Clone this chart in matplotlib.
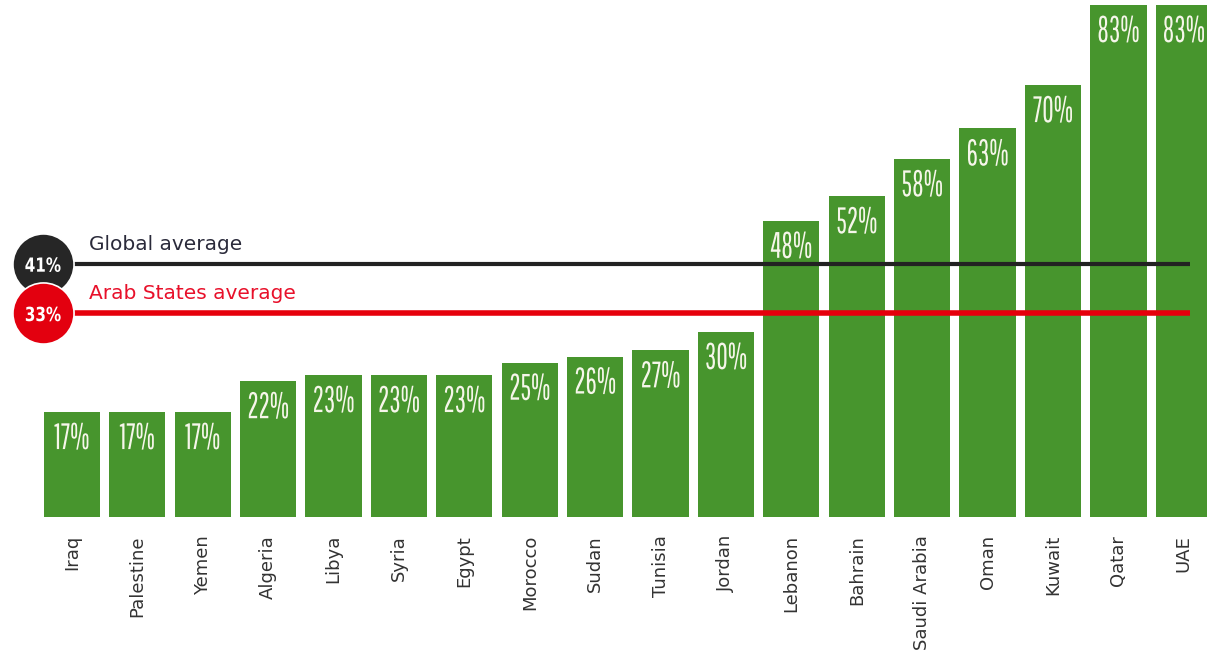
import matplotlib
matplotlib.use("Agg")
import logging
logging.getLogger("matplotlib.font_manager").setLevel(logging.ERROR)
import matplotlib.pyplot as plt
from matplotlib import patheffects
from matplotlib.transforms import Affine2D
from matplotlib.textpath import TextPath
from matplotlib.font_manager import FontProperties

countries = ["Iraq", "Palestine", "Yemen", "Algeria", "Libya", "Syria", "Egypt",
             "Morocco", "Sudan", "Tunisia", "Jordan", "Lebanon", "Bahrain",
             "Saudi Arabia", "Oman", "Kuwait", "Qatar", "UAE"]
values = [17, 17, 17, 22, 23, 23, 23, 25, 26, 27, 30, 48, 52, 58, 63, 70, 83, 83]
averages = [41, 33]
average_labels = ["Global average", "Arab States average"]

NUM_FONT = ["Pathway Gothic One", "DejaVu Sans"]
TXT_FONT = ["DejaVu Sans"]

W, H = 1207, 656
DPI = 100
fig = plt.figure(figsize=(W / DPI, H / DPI), dpi=DPI)
ax = fig.add_axes([0, (H - 517) / H, 1, 517 / H])
ax.set_xlim(-1.10, 17.355)
ax.set_ylim(0, 83.8)
ax.axis("off")


class Condense(patheffects.AbstractPathEffect):
    """Squeeze glyphs horizontally about the anchor x of a (real) text."""

    def __init__(self, ax, xdata, scale):
        super().__init__()
        self.ax = ax
        self.xdata = xdata
        self.scale = scale

    def draw_path(self, renderer, gc, tpath, affine, rgbFace=None):
        xc = self.ax.transData.transform((self.xdata, 0))[0]
        aff = affine + Affine2D().translate(-xc, 0).scale(self.scale, 1).translate(xc, 0)
        renderer.draw_path(gc, tpath, aff, rgbFace)


bar_color = "#47952d"
x = list(range(len(countries)))
ax.bar(x, values, width=0.86, color=bar_color, zorder=1)

# size the narrow number font: digits ~27 px tall, "17%" ~34 px wide
ext = TextPath((0, 0), "17%", size=100, prop=FontProperties(family=NUM_FONT)).get_extents()
num_px = 27.0 / ext.height * 100
num_pt = num_px * 72 / DPI
num_scale = min(1.0, 34.0 / (ext.width * num_px / 100))

for xi, v in zip(x, values):
    ax.annotate(f"{v}%", xy=(xi, v), xytext=(0, -26.6), textcoords="offset points",
                ha="center", va="baseline", color="#f6f6ea", fontsize=num_pt,
                family=NUM_FONT, zorder=4, annotation_clip=False,
                path_effects=[Condense(ax, xi, num_scale)])

for xi, name in zip(x, countries):
    ax.annotate(name, xy=(xi, 0), xytext=(0, -13), textcoords="offset points",
                rotation=90, ha="center", va="top", fontsize=13,
                color="#333333", family=TXT_FONT, annotation_clip=False)

avg_colors = ["#262626", "#e3000f"]
line_colors = ["#222222", "#e6000c"]
text_colors = ["#2a2a3a", "#e8102a"]
lws = [3, 4]
cx = -0.443
for val, lab, cc, lc, tc, lw in zip(averages, average_labels, avg_colors,
                                     line_colors, text_colors, lws):
    ax.plot([cx, 17.09], [val, val], color=lc, lw=lw, zorder=3,
            solid_capstyle="butt")
    ax.plot([cx], [val], marker="o", markersize=44, color=cc,
            markeredgecolor="white", markeredgewidth=1.2, zorder=5, clip_on=False)
    ax.annotate(f"{val}%", xy=(cx, val), xytext=(0, -5.5), textcoords="offset points",
                ha="center", va="baseline", color="white", fontsize=14,
                fontweight="bold", family=TXT_FONT, zorder=6,
                annotation_clip=False, path_effects=[Condense(ax, cx, 0.78)])
    ax.annotate(lab, xy=(cx, val), xytext=(33, 7.5), textcoords="offset points",
                ha="left", va="bottom", color=tc, fontsize=14.5, family=TXT_FONT,
                zorder=6)

fig.savefig("out.png", dpi=DPI)
